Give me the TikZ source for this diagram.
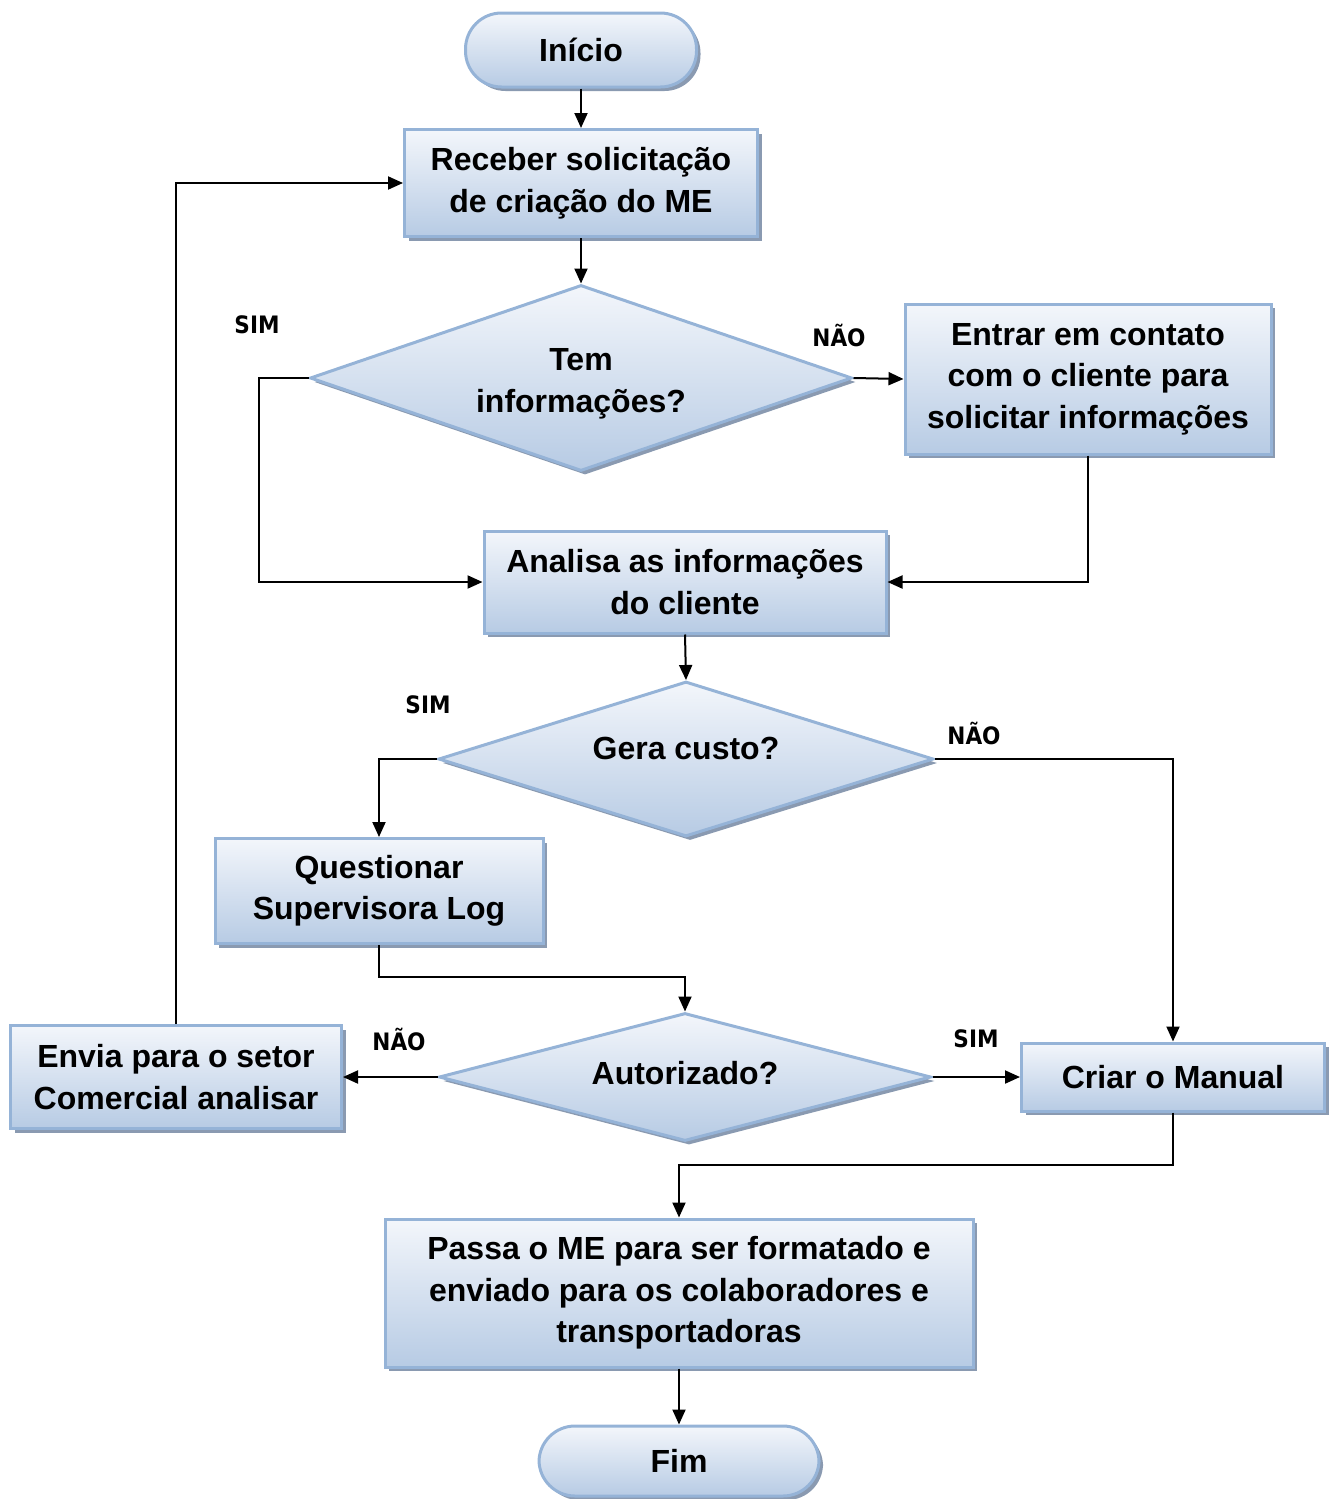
\documentclass[tikz,border=0pt]{standalone}
\usepackage{fontspec}
\setmainfont{Liberation Sans}
\newfontfamily\lblfont{DejaVu Sans Condensed}
\usetikzlibrary{shapes.geometric,arrows.meta,shadows}
\definecolor{fillTop}{HTML}{F3F6FB}
\definecolor{fillBot}{HTML}{B7CBE4}
\definecolor{edgeBlue}{HTML}{95B3D7}
\definecolor{shadeGrey}{HTML}{8A9AB1}
\tikzset{
  base/.style={draw=edgeBlue, line width=3pt, top color=fillTop, bottom color=fillBot,
    font=\fontsize{32}{41.5}\selectfont\bfseries, align=center, inner sep=0pt,
    drop shadow={shadow xshift=4pt, shadow yshift=-4pt, fill=shadeGrey, opacity=1}},
  procbox/.style={base, rectangle},
  termbox/.style={base, rectangle, rounded corners=36pt},
  decbox/.style={base, diamond},
  flow/.style={line width=2pt, -{Triangle[length=15pt,width=13pt]}},
  lbl/.style={font=\lblfont\fontsize{24}{24}\selectfont\bfseries, inner sep=0pt}
}
\begin{document}
\begin{tikzpicture}[x=1pt,y=-1pt]
\useasboundingbox (0,0) rectangle (1335,1499);

% process, decision and terminal nodes
\node[termbox, minimum width=231, minimum height=74] (start) at (581,50) {Início};
\node[procbox, minimum width=353, minimum height=107] (recv) at (581,183) {Receber solicitação\\de criação do ME};
\node[decbox, minimum width=542, minimum height=186, aspect=2.9] (tem) at (581,378)
  {\raisebox{0pt}[\dimexpr\height+10pt\relax]{\begin{tabular}{@{}c@{}}Tem\\informações?\end{tabular}}};
\node[procbox, minimum width=366, minimum height=150] (contact) at (1088,379) {Entrar em contato\\com o cliente para\\solicitar informações};
\node[procbox, minimum width=402, minimum height=102] (analisa) at (685,582) {Analisa as informações\\do cliente};
\node[decbox, minimum width=495, minimum height=155, aspect=3.2] (gera) at (686,759) {\raisebox{22pt}{Gera custo?}};
\node[procbox, minimum width=328, minimum height=105] (quest) at (379,891) {Questionar\\Supervisora Log};
\node[decbox, minimum width=492, minimum height=128, aspect=3.8] (aut) at (685,1077) {\raisebox{8pt}{Autorizado?}};
\node[procbox, minimum width=331, minimum height=103] (envia) at (176,1077) {Envia para o setor\\Comercial analisar};
\node[procbox, minimum width=303, minimum height=68] (criar) at (1173,1077) {Criar o Manual};
\node[procbox, minimum width=588, minimum height=148] (passa) at (679,1293) {Passa o ME para ser formatado e\\enviado para os colaboradores e\\transportadoras};
\node[termbox, minimum width=280, minimum height=70] (fim) at (679,1461) {Fim};

% branch labels
\node[lbl] (l1) at (257,325) {SIM};
\node[lbl] (l2) at (839,335) {NÃO};
\node[lbl] (l3) at (428,705) {SIM};
\node[lbl] (l4) at (974,733) {NÃO};
\node[lbl] (l5) at (399,1039) {NÃO};
\node[lbl] (l6) at (976,1039) {SIM};

% connectors
\draw[flow] (start.south) -- (recv.north);
\draw[flow] (recv.south) -- (tem.north);
\draw[flow] (tem.west) -- ([xshift=-50pt]tem.west) |- (analisa.west);
\draw[flow] (tem.east) -- (contact.west);
\draw[flow] (contact.south) |- (analisa.east);
\draw[flow] (analisa.south) -- (gera.north);
\draw[flow] (gera.west) -| (quest.north);
\draw[flow] (gera.east) -| (criar.north);
\draw[flow] (quest.south) -- ++(0,32) -| (aut.north);
\draw[flow] (aut.west) -- (envia.east);
\draw[flow] (aut.east) -- (criar.west);
\draw[flow] (envia.north) |- (recv.west);
\draw[flow] (criar.south) -- ++(0,52) -| (passa.north);
\draw[flow] (passa.south) -- (fim.north);
\end{tikzpicture}
\end{document}
